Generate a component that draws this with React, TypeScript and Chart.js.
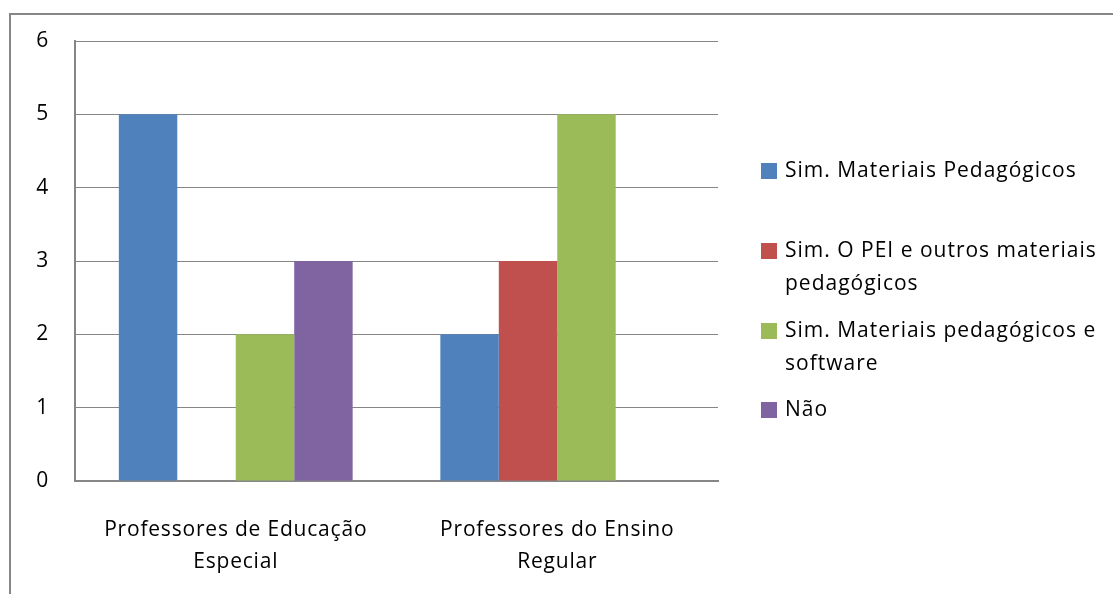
import React, { useEffect, useRef } from "react";
import { Chart, registerables } from "chart.js";

Chart.register(...registerables);

const categories: string[][] = [
  ["Professores de Educação", "Especial"],
  ["Professores do Ensino", "Regular"],
];
const seriesNames = [
  "Sim. Materiais Pedagógicos",
  "Sim. O PEI e outros materiais pedagógicos",
  "Sim. Materiais pedagógicos e software",
  "Não",
];
const legendLines: string[][] = [
  ["Sim. Materiais Pedagógicos"],
  ["Sim. O PEI e outros materiais", "pedagógicos"],
  ["Sim. Materiais pedagógicos e", "software"],
  ["Não"],
];
const materiaisPedagogicos = [5, 2];
const peiOutrosMateriais = [0, 3];
const materiaisSoftware = [2, 5];
const nao = [3, 0];
const seriesColors = ["#4F81BD", "#C0504D", "#9BBB59", "#8064A2"];
const yMin = 0;
const yMax = 6;
const yStep = 1;

const FONT = "'Open Sans', 'DejaVu Sans', sans-serif";
const GRID = "#868686";

const spacing = {
  id: "spacing",
  beforeDraw(chart: any) {
    chart.ctx.letterSpacing = "0.8px";
  },
};

const frameAndLegend = {
  id: "frameAndLegend",
  afterDraw(chart: any) {
    const ctx = chart.ctx;
    const area = chart.chartArea;
    ctx.save();
    // outer chart frame (only left/top visible in the crop)
    ctx.strokeStyle = GRID;
    ctx.lineWidth = 2;
    ctx.strokeRect(10, 14, chart.width + 40, chart.height + 40);

    // legend
    const boxX = area.right + 43;
    const textX = boxX + 24;
    const itemTops = [171, 251, 331, 410];
    const lineH = 33;
    ctx.letterSpacing = "1px";
    ctx.font = `21px ${FONT}`;
    ctx.textBaseline = "middle";
    ctx.textAlign = "left";
    legendLines.forEach((lines, i) => {
      const cy = itemTops[i];
      ctx.fillStyle = chart.data.datasets[i].backgroundColor;
      ctx.fillRect(boxX, cy - 8, 16, 16);
      ctx.fillStyle = "#000";
      lines.forEach((ln, j) => {
        ctx.fillText(ln, textX, cy + j * lineH);
      });
    });
    ctx.restore();
  },
};

export default function App() {
  const ref = useRef<HTMLCanvasElement>(null);
  useEffect(() => {
    if (!ref.current) return;
    const seriesData = [materiaisPedagogicos, peiOutrosMateriais, materiaisSoftware, nao];
    const chart = new Chart(ref.current, {
      type: "bar",
      data: {
        labels: categories,
        datasets: seriesNames.map((name, i) => ({
          label: name,
          data: seriesData[i],
          backgroundColor: seriesColors[i],
          borderWidth: 0,
          categoryPercentage: 4 / 5.5,
          barPercentage: 1,
        })),
      },
      options: {
        responsive: false,
        animation: false,
        layout: { padding: { top: 41, right: 395, left: 0, bottom: 0 } },
        plugins: { legend: { display: false }, tooltip: { enabled: false } },
        scales: {
          x: {
            grid: { display: false, drawTicks: false },
            border: { display: true, color: GRID, width: 2 },
            ticks: {
              color: "#000",
              font: { family: FONT, size: 21, lineHeight: 1.52 },
              padding: 33,
              maxRotation: 0,
              autoSkip: false,
            },
            afterFit: (s: any) => {
              s.height = 113;
            },
          },
          y: {
            min: yMin,
            max: yMax,
            grid: { color: GRID, lineWidth: 1, drawTicks: false },
            border: { display: true, color: GRID, width: 2 },
            ticks: {
              stepSize: yStep,
              color: "#000",
              font: { family: FONT, size: 21 },
              padding: 26,
            },
            afterFit: (s: any) => {
              s.width = 75;
            },
          },
        },
      },
      plugins: [spacing, frameAndLegend],
    });
    return () => chart.destroy();
  }, []);
  return (
    <div style={{ position: "absolute", left: 0, top: 0, width: 1113, height: 594, background: "#fff" }}>
      <canvas ref={ref} width={1113} height={594} />
    </div>
  );
}
